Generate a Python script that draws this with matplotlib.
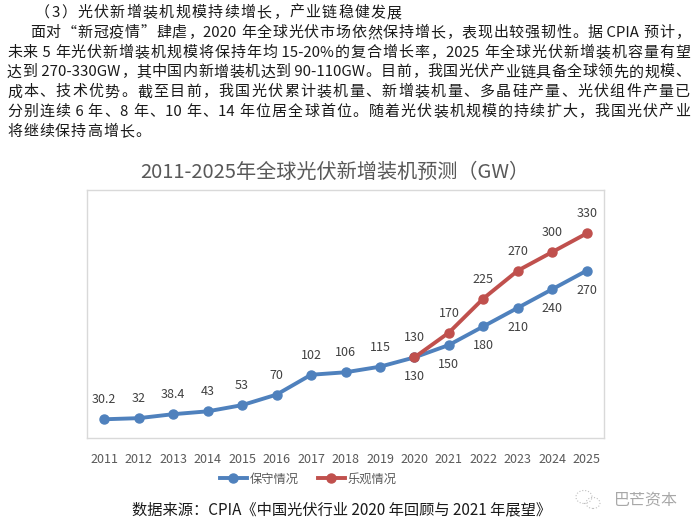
import re
import matplotlib.pyplot as plt
from matplotlib.patches import Ellipse

plt.rcParams['font.family'] = ['Noto Sans CJK SC', 'DejaVu Sans']

years = ['2011', '2012', '2013', '2014', '2015', '2016', '2017', '2018',
         '2019', '2020', '2021', '2022', '2023', '2024', '2025']
conservative = [30.2, 32, 38.4, 43, 53, 70, 102, 106, 115, 130, 150, 180, 210, 240, 270]
optimistic_years = years[9:]
optimistic = [130, 170, 225, 270, 300, 330]

# (left px, right px or None, text)
paragraph = [
    (35, 402, "（3）光伏新增装机规模持续增长，产业链稳健发展"),
    (30, 690, "面对“新冠疫情”肆虐，2020 年全球光伏市场依然保持增长，表现出较强韧性。据 CPIA 预计，"),
    (7, 690, "未来 5 年光伏新增装机规模将保持年均 15-20%的复合增长率，2025 年全球光伏新增装机容量有望"),
    (7, 690, "达到 270-330GW，其中国内新增装机达到 90-110GW。目前，我国光伏产业链具备全球领先的规模、"),
    (7, 690, "成本、技术优势。截至目前，我国光伏累计装机量、新增装机量、多晶硅产量、光伏组件产量已"),
    (7, 690, "分别连续 6 年、8 年、10 年、14 年位居全球首位。随着光伏装机规模的持续扩大，我国光伏产业"),
    (7, 150, "将继续保持高增长。"),
]

W, H = 698, 532
fig = plt.figure(figsize=(W / 100, H / 100), dpi=100)
renderer = fig.canvas.get_renderer()


def justified(y, x0, x1, s, size):
    # split into ASCII runs and single wide characters, spread them over x0..x1
    tokens = re.findall(r'[ -~]+|.', s)
    widths = []
    for t in tokens:
        tt = fig.text(0, 0, t, fontsize=size)
        widths.append(tt.get_window_extent(renderer).width)
        tt.remove()
    gap = (x1 - x0 - sum(widths)) / max(len(tokens) - 1, 1)
    gap = max(gap, 0)
    x = x0
    for t, w in zip(tokens, widths):
        fig.text(x / W, 1 - y / H, t, fontsize=size, color='#1a1a1a',
                 va='center', ha='left')
        x += w + gap


for i, (x0, x1, line) in enumerate(paragraph):
    justified(13 + i * 19.8, x0, x1, line, 10.8)

fig.text(335 / W, 1 - 172 / H, "2011-2025年全球光伏新增装机预测（GW）",
         fontsize=14.5, color='#595959', ha='center', va='center')

ax = fig.add_axes([87 / W, 1 - 438 / H, (604 - 87) / W, (438 - 190) / H])
blue = '#4F81BD'
red = '#C0504D'
idx = list(range(len(years)))
ax.plot(idx, conservative, color=blue, lw=2.8, marker='o', ms=6.5, label='保守情况', zorder=3)
opt_idx = [years.index(y) for y in optimistic_years]
ax.plot(opt_idx, optimistic, color=red, lw=2.8, marker='o', ms=6.5, label='乐观情况', zorder=4)

for i, v in zip(idx, conservative):
    off = 14 if i < 9 else -14
    ax.annotate(f"{v:g}", (i, v), xytext=(0, off), textcoords='offset points',
                ha='center', va='center', fontsize=9, color='#404040')
for i, v in zip(opt_idx, optimistic):
    ax.annotate(f"{v:g}", (i, v), xytext=(0, 14), textcoords='offset points',
                ha='center', va='center', fontsize=9, color='#404040')

ax.set_xlim(-0.5, 14.5)
ax.set_ylim(0, 400)
ax.set_yticks([])
ax.set_xticks(idx)
ax.set_xticklabels(years, fontsize=9, color='#595959')
ax.tick_params(axis='x', length=0, pad=11)
for s in ax.spines.values():
    s.set_color('#d9d9d9')
    s.set_linewidth(1)

fig.legend(loc='center', bbox_to_anchor=(308 / W, 1 - 479 / H), ncol=2, frameon=False,
           fontsize=8.8, labelcolor='#595959', handlelength=2.2, handletextpad=0.2,
           columnspacing=1.6)

fig.text(342 / W, 1 - 510 / H, "数据来源：CPIA《中国光伏行业 2020 年回顾与 2021 年展望》",
         fontsize=11, color='#1a1a1a', ha='center', va='center')

# watermark
fig.text(646 / W, 1 - 500 / H, "巴芒资本", fontsize=11.5, color='#a8a8a8',
         ha='center', va='center')
fig.add_artist(Ellipse((584 / W, 1 - 497 / H), 16 / W, 13 / H, transform=fig.transFigure,
                       fill=False, ec='#c0c0c0', lw=0.8, ls=':'))
fig.add_artist(Ellipse((593 / W, 1 - 503 / H), 14 / W, 11 / H, transform=fig.transFigure,
                       fill=False, ec='#c0c0c0', lw=0.8, ls=':'))

fig.savefig('out.png', dpi=100)
